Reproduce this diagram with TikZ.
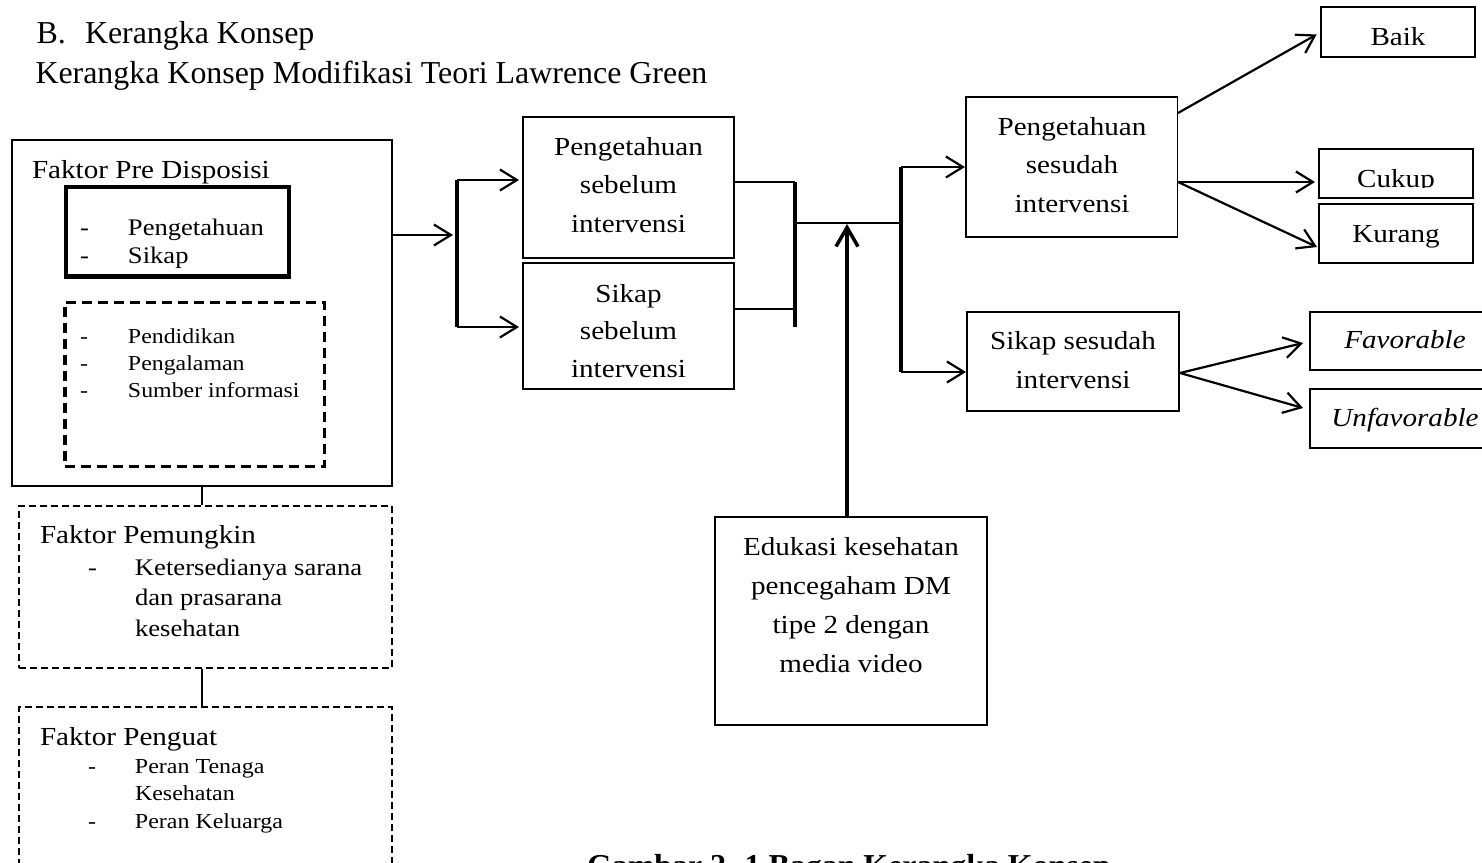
\documentclass[tikz,border=0pt]{standalone}
\usepackage{fontspec}
\setmainfont{Liberation Serif}[FakeStretch=1.12]
\newfontfamily\hdfont{Liberation Serif}
\usetikzlibrary{arrows.meta}
\newcommand\dsh[1]{\makebox[#1][l]{-}}
\newcommand\fbody{\fontsize{26}{38.5}\selectfont}
\begin{document}
\begin{tikzpicture}[x=1pt,y=-1pt,
  box/.style={draw, line width=1.6pt, rectangle, inner sep=0pt, outer sep=0pt},
  txt/.style={inner sep=0pt, outer sep=0pt, anchor=base},
  txtl/.style={inner sep=0pt, outer sep=0pt, anchor=base west},
  conn/.style={line width=2pt},
  thinconn/.style={line width=1.8pt},
  arr/.style={line width=2.2pt, -{Straight Barb[length=17pt,width=21pt]}},
  uparr/.style={line width=3.5pt, -{Straight Barb[length=19pt,width=22pt]}},
  brk/.style={line width=3.5pt},
  dashthick/.style={draw, line width=3.5pt, dash pattern=on 10pt off 6pt, rectangle, inner sep=0pt},
  dashthin/.style={draw, line width=1.4pt, dash pattern=on 7pt off 4pt, rectangle, inner sep=0pt},
]
\useasboundingbox (0,0) rectangle (1482,862);
\clip (0,0) rectangle (1482,862);

% header
\node[txtl] (hb) at (36.5,43) {\hdfont\fontsize{31.9}{38}\selectfont B.};
\node[txtl] (hk) at (85,43) {\hdfont\fontsize{31.9}{38}\selectfont Kerangka Konsep};
\node[txtl] (h2) at (35.5,83) {\hdfont\fontsize{31.9}{38}\selectfont Kerangka Konsep Modifikasi Teori Lawrence Green};

% left column
\node[box, minimum width=380pt, minimum height=346pt] (pre) at (202,313) {};
\node[txtl] (pret) at (32,178) {\fontsize{26}{30}\selectfont Faktor Pre Disposisi};
\node[draw, line width=4.5pt, rectangle, inner sep=0pt, minimum width=223.3pt, minimum height=89.5pt] (pk) at (177.4,231.75) {};
\node[txtl] (pkt) at (80,235) {\fontsize{23.75}{28}\selectfont\begin{tabular}[t]{@{}l@{}}\dsh{48pt}Pengetahuan\\\dsh{48pt}Sikap\end{tabular}};
\node[dashthick, minimum width=259.7pt, minimum height=164pt] (pd) at (194.85,384.3) {};
\node[txtl] (pdt) at (80,343) {\fontsize{21.3}{27}\selectfont\begin{tabular}[t]{@{}l@{}}\dsh{48pt}Pendidikan\\\dsh{48pt}Pengalaman\\\dsh{48pt}Sumber informasi\end{tabular}};

\node[dashthin, minimum width=373pt, minimum height=162pt] (pem) at (205.5,587) {};
\node[txtl] (pemt) at (40,543) {\fontsize{26}{30}\selectfont Faktor Pemungkin};
\node[txtl] (pemi) at (88,575) {\fontsize{23.8}{30.5}\selectfont\begin{tabular}[t]{@{}l@{}}\dsh{47pt}Ketersedianya sarana\\\hspace*{47pt}dan prasarana\\\hspace*{47pt}kesehatan\end{tabular}};

\node[dashthin, minimum width=373pt, minimum height=213pt] (peng) at (205.5,813.5) {};
\node[txtl] (pengt) at (40,745) {\fontsize{26}{30}\selectfont Faktor Penguat};
\node[txtl] (pengi) at (88,773) {\fontsize{21.4}{27.5}\selectfont\begin{tabular}[t]{@{}l@{}}\dsh{47pt}Peran Tenaga\\\hspace*{47pt}Kesehatan\\\dsh{47pt}Peran Keluarga\end{tabular}};

\draw[conn] (pre.south) -- (pre.south |- pem.north);
\draw[conn] (pre.south |- pem.south) -- (pre.south |- peng.north);

% middle boxes
\node[box, minimum width=211pt, minimum height=141pt] (psb) at (628.5,187.5) {};
\node[txt] (psbt) at (628.5,155) {\fbody\begin{tabular}[t]{@{}c@{}}Pengetahuan\\sebelum\\intervensi\end{tabular}};
\node[box, minimum width=211pt, minimum height=126pt] (ssb) at (628.5,326) {};
\node[txt] (ssbt) at (628.5,302) {\fontsize{26}{37.5}\selectfont\begin{tabular}[t]{@{}c@{}}Sikap\\sebelum\\intervensi\end{tabular}};

\node[box, line width=2pt, minimum width=272pt, minimum height=208pt] (edu) at (851,621) {};
\node[txt] (edut) at (851,555) {\fontsize{26}{39}\selectfont\begin{tabular}[t]{@{}c@{}}Edukasi kesehatan\\pencegaham DM\\tipe 2 dengan\\media video\end{tabular}};

\node[box, minimum width=211.5pt, minimum height=140pt] (pss) at (1071.75,167) {};
\node[txt] (psst) at (1072,135) {\fbody\begin{tabular}[t]{@{}c@{}}Pengetahuan\\sesudah\\intervensi\end{tabular}};
\node[box, minimum width=212pt, minimum height=99pt] (sss) at (1073,361.5) {};
\node[txt] (ssst) at (1073,349) {\fontsize{26}{39}\selectfont\begin{tabular}[t]{@{}c@{}}Sikap sesudah\\intervensi\end{tabular}};

% right boxes
\node[box, minimum width=154pt, minimum height=50pt] (baik) at (1398,32) {};
\node[txt] (baikt) at (1398,45) {\fbody Baik};
\node[box, minimum width=154pt, minimum height=49pt] (cukup) at (1396,173.5) {};
\begin{scope}
\clip (1319,149) rectangle (1473,187.6);
\node[txt] (cukupt) at (1396,187) {\fbody Cukup};
\end{scope}
\node[box, minimum width=154pt, minimum height=59pt] (kurang) at (1396,233.5) {};
\node[txt] (kurangt) at (1396,242) {\fbody Kurang};
\node[box, minimum width=190pt, minimum height=58pt] (fav) at (1405,341) {};
\node[txt] (favt) at (1405,348) {\fbody\itshape Favorable};
\node[box, minimum width=190pt, minimum height=59pt] (unf) at (1405,418.5) {};
\node[txt] (unft) at (1405,426) {\fbody\itshape Unfavorable};

% connector points
\coordinate (b1mid) at (457,235);
\coordinate (b1top) at (457,180);
\coordinate (b1bot) at (457,327);
\coordinate (b2top) at (795,182);
\coordinate (b2s) at (795,309);
\coordinate (b2bot) at (795,327);
\coordinate (b2mid) at (795,223);
\coordinate (b3mid) at (901,223);
\coordinate (b3top) at (901,167);
\coordinate (b3bot) at (901,372);
\coordinate (up) at (847,224);
\coordinate (pssA) at (1178,113);
\coordinate (pssB) at (1178,182);
\coordinate (kurT) at (1317,247);
\coordinate (sssA) at (1180,373);
\coordinate (favT) at (1303,343);
\coordinate (unfT) at (1303,408);

% left -> first bracket
\draw[arr, shorten >=4pt] (pre.east |- b1mid) -- (b1mid);
\draw[brk] (b1top) -- (b1bot);
\draw[arr, shorten >=4pt] (b1top) -- (b1top -| psb.west);
\draw[arr, shorten >=4pt] (b1bot) -- (b1bot -| ssb.west);

% second bracket
\draw[thinconn] (psb.east |- b2top) -- (b2top);
\draw[thinconn] (ssb.east |- b2s) -- (b2s);
\draw[brk] (b2top) -- (b2bot);
\draw[thinconn] (b2mid) -- (b3mid);

% third bracket
\draw[brk] (b3top) -- (b3bot);
\draw[arr, shorten >=1pt] (b3top) -- (b3top -| pss.west);
\draw[arr, shorten >=1pt] (b3bot) -- (b3bot -| sss.west);

% education arrow
\draw[uparr] (up |- edu.north) -- (up);

% outcome arrows
\draw[arr, shorten >=5pt] (pssA) -- (baik.west);
\draw[arr, shorten >=4pt] (pssB) -- (pssB -| cukup.west);
\draw[arr] (pssB) -- (kurT);
\draw[arr] (sssA) -- (favT);
\draw[arr] (sssA) -- (unfT);

% caption (cut by the page edge, as in the reference)
\node[txtl] (cap) at (587,876) {\hdfont\fontsize{31.9}{38}\selectfont\bfseries Gambar 2. 1 Bagan Kerangka Konsep};
\end{tikzpicture}
\end{document}
